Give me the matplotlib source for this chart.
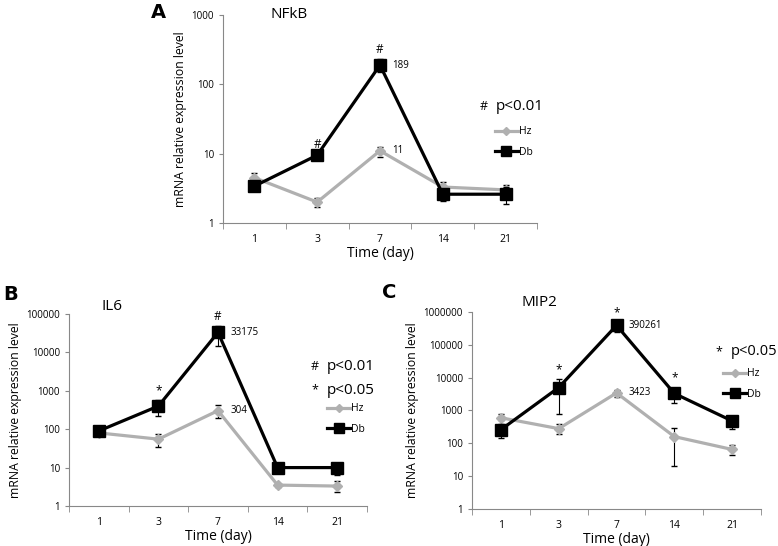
import matplotlib
matplotlib.use('Agg')
import matplotlib.pyplot as plt
from matplotlib.lines import Line2D
import numpy as np

plt.rcParams['font.family'] = ['Open Sans', 'DejaVu Sans']

DAYS = ['1', '3', '7', '14', '21']

# panel A - NFkB
NFKB_HZ = [4.5, 2.0, 11, 3.3, 3.0]
NFKB_HZ_LO = [4.0, 1.7, 9.0, 2.9, 2.6]
NFKB_HZ_HI = [5.2, 2.3, 12.5, 3.9, 3.5]
NFKB_DB = [3.4, 9.5, 189, 2.6, 2.6]
NFKB_DB_LO = [3.1, 9.0, 150, 2.1, 1.9]
NFKB_DB_HI = [3.7, 10.0, 230, 3.1, 3.3]
NFKB_MARKS = ['', '#', '#', '', '']

# panel B - IL6
IL6_HZ = [80, 55, 304, 3.5, 3.3]
IL6_HZ_LO = [70, 35, 200, 3.2, 2.3]
IL6_HZ_HI = [90, 75, 420, 3.8, 4.5]
IL6_DB = [90, 400, 33175, 10, 10]
IL6_DB_LO = [75, 220, 15000, 9, 6.5]
IL6_DB_HI = [105, 580, 50000, 11, 13]
IL6_MARKS = ['', '*', '#', '', '']

# panel C - MIP2
MIP2_HZ = [600, 280, 3423, 160, 65]
MIP2_HZ_LO = [500, 190, 2600, 20, 43]
MIP2_HZ_HI = [800, 380, 4300, 300, 90]
MIP2_DB = [260, 5000, 390261, 3300, 480]
MIP2_DB_LO = [150, 800, 250000, 1700, 270]
MIP2_DB_HI = [400, 9000, 500000, 5000, 700]
MIP2_MARKS = ['', '*', '*', '*', '']

HZ_COLOR = '#b0b0b0'


def panel(ax, hz, hz_lo, hz_hi, db, db_lo, db_hi, marks, ymax, title, letter,
          letter_xy, title_xy, pvals, sym_x, leg_x, leg_y, peak_hz_lbl,
          peak_db_lbl, pfs=11):
    x = np.arange(len(DAYS))
    hz = np.array(hz, float)
    db = np.array(db, float)
    ax.errorbar(x, hz, yerr=[hz - np.array(hz_lo), np.array(hz_hi) - hz],
                color=HZ_COLOR, lw=2.3, marker='D', ms=5.5, ecolor='black',
                elinewidth=0.8, capsize=2.5, zorder=2, label='Hz')
    ax.errorbar(x, db, yerr=[db - np.array(db_lo), np.array(db_hi) - db],
                color='black', lw=2.3, marker='s', ms=8, ecolor='black',
                elinewidth=0.8, capsize=2.5, zorder=3, label='Db')
    ax.set_yscale('log')
    ax.set_ylim(1, ymax)
    ax.set_xlim(-0.5, len(DAYS) - 0.5)
    decades = [10 ** k for k in range(int(round(np.log10(ymax))) + 1)]
    ax.set_yticks(decades)
    ax.set_yticklabels([str(d) for d in decades], fontsize=7)
    ax.minorticks_off()
    ax.set_xticks(x)
    ax.set_xticklabels(DAYS, fontsize=7.5)
    ax.set_xticks(np.arange(-0.5, len(DAYS), 1.0), minor=True)
    ax.tick_params(axis='x', which='major', length=0, pad=8)
    ax.tick_params(axis='x', which='minor', length=4, color='#888888')
    ax.tick_params(axis='y', length=3, color='#888888')
    for s in ['top', 'right']:
        ax.spines[s].set_visible(False)
    for s in ['left', 'bottom']:
        ax.spines[s].set_color('#888888')
    ax.set_xlabel('Time (day)', fontsize=10, labelpad=1)
    ax.set_ylabel('mRNA relative expression level', fontsize=8.8, labelpad=3)

    for i, m in enumerate(marks):
        if m:
            ax.annotate(m, (x[i], db_hi[i]), xytext=(0, 2),
                        textcoords='offset points', ha='center', va='bottom',
                        fontsize=8.5)
    ax.annotate(peak_db_lbl, (x[2], db[2]), xytext=(9, 0),
                textcoords='offset points', ha='left', va='center', fontsize=7)
    ax.annotate(peak_hz_lbl, (x[2], hz[2]), xytext=(9, 0),
                textcoords='offset points', ha='left', va='center', fontsize=7)

    ax.text(letter_xy[0], letter_xy[1], letter, transform=ax.transAxes,
            fontsize=14, fontweight='bold', family='DejaVu Sans', ha='left',
            va='center')
    ax.text(title_xy[0], title_xy[1], title, transform=ax.transAxes,
            fontsize=11, ha='left', va='center')
    for sym, txt, yy in pvals:
        ax.text(sym_x, yy, sym, transform=ax.transAxes, fontsize=9,
                ha='center', va='center', clip_on=False)
        ax.text(sym_x + 0.04, yy, txt, transform=ax.transAxes, fontsize=pfs,
                ha='left', va='center', clip_on=False)
    handles = [Line2D([], [], color=HZ_COLOR, lw=2.3, marker='D', ms=4.5),
               Line2D([], [], color='black', lw=2.3, marker='s', ms=7)]
    ax.legend(handles, ['Hz', 'Db'], loc='center left',
              bbox_to_anchor=(leg_x, leg_y), frameon=False, fontsize=7.5,
              handlelength=2.2, handletextpad=0.1, labelspacing=0.9,
              borderaxespad=0, borderpad=0)


fig = plt.figure(figsize=(7.78, 5.46), dpi=100)
axA = fig.add_axes([0.2866, 0.5916, 0.4036, 0.381])
axB = fig.add_axes([0.0887, 0.0733, 0.383, 0.3516])
axC = fig.add_axes([0.6067, 0.0678, 0.3715, 0.3608])

panel(axA, NFKB_HZ, NFKB_HZ_LO, NFKB_HZ_HI, NFKB_DB, NFKB_DB_LO, NFKB_DB_HI,
      NFKB_MARKS, 1000, 'NFkB', 'A', (-0.23, 1.01), (0.15, 1.0),
      [('#', 'p<0.01', 0.558)], 0.83, 0.866, 0.39, '11', '189')
panel(axB, IL6_HZ, IL6_HZ_LO, IL6_HZ_HI, IL6_DB, IL6_DB_LO, IL6_DB_HI,
      IL6_MARKS, 100000, 'IL6', 'B', (-0.22, 1.1), (0.11, 1.04),
      [('#', 'p<0.01', 0.724), ('*', 'p<0.05', 0.604)], 0.826, 0.866, 0.453,
      '304', '33175')
panel(axC, MIP2_HZ, MIP2_HZ_LO, MIP2_HZ_HI, MIP2_DB, MIP2_DB_LO, MIP2_DB_HI,
      MIP2_MARKS, 1000000, 'MIP2', 'C', (-0.31, 1.1), (0.17, 1.05),
      [('*', 'p<0.05', 0.80)], 0.855, 0.87, 0.635, '3423', '390261', pfs=10.5)

fig.savefig('out.png', dpi=100)
